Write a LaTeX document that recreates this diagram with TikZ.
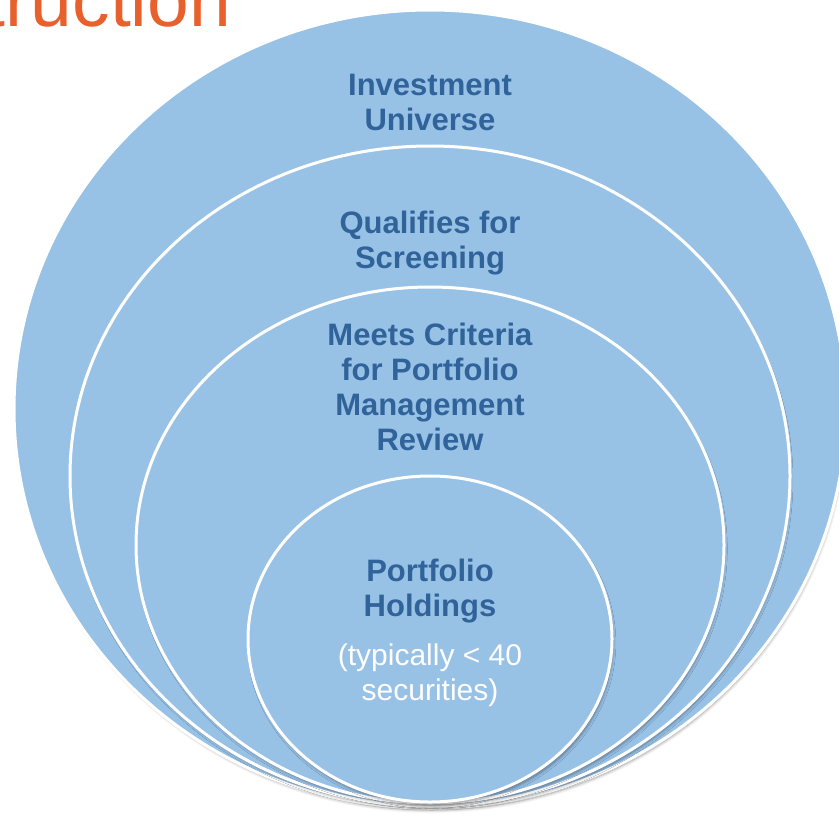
\documentclass[tikz,border=0pt]{standalone}
\usepackage{fontspec}
\setmainfont{Liberation Sans}
\usetikzlibrary{shadows.blur}
\definecolor{ringfill}{HTML}{98C1E6}
\definecolor{ringtext}{HTML}{2F6399}
\definecolor{titleorange}{HTML}{E8602C}
\tikzset{
  ring/.style={fill=ringfill, draw=white, line width=1.5pt,
    blur shadow={shadow xshift=0.8pt, shadow yshift=-2pt, shadow scale=0.995,
      shadow blur radius=1.6pt, shadow blur steps=6, shadow opacity=40}},
  lbl/.style={text=ringtext, font=\bfseries\fontsize{15.5}{17.5}\selectfont, align=center, inner sep=0pt},
  note/.style={text=white, font=\fontsize{15}{17.5}\selectfont, align=center, inner sep=0pt}
}
\begin{document}
\begin{tikzpicture}[x=0.5pt, y=-0.5pt]
  \useasboundingbox (0,0) rectangle (839,814);
  % nested rings, all touching at the bottom
  \foreach \cy/\rx/\ry in {409/416/399, 476/360/330, 545/294/258, 639/182/163}
    \draw[ring] (430,\cy) ellipse [x radius=\rx, y radius=\ry];
  \node (title) at (238,26) [anchor=base east, text=titleorange, font=\fontsize{37.5}{40}\selectfont] {truction};
  \node (universe) at (430,102) [lbl] {Investment\\Universe};
  \node (screen) at (430,243) [lbl] {Qualifies for\\Screening};
  \node (review) at (430,387) [lbl] {Meets Criteria\\for Portfolio\\Management\\Review};
  \node (holdings) at (430,591) [lbl] {Portfolio\\Holdings};
  \node (count) at (430,675) [note] {(typically < 40\\securities)};
\end{tikzpicture}
\end{document}
